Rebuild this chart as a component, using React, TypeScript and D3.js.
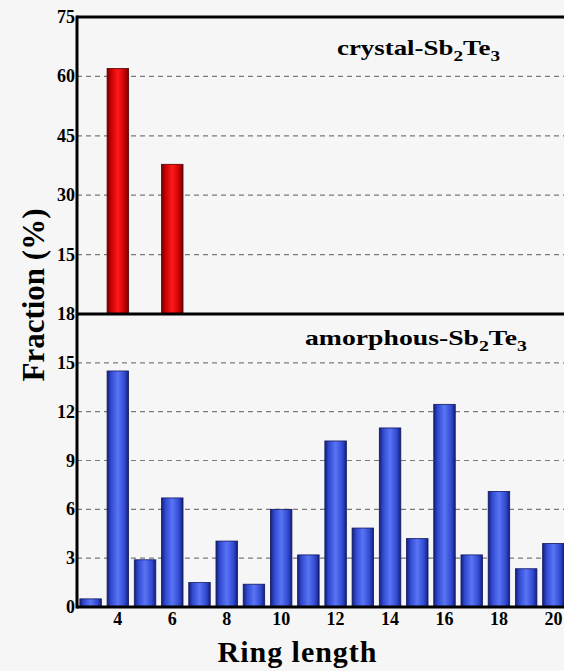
import React from "react";
import * as d3 from "d3";

// ring lengths and fractions (%)
const crystalRings = [4, 6];
const crystalFrac = [62, 37.8];
const amorphRings = [3, 4, 5, 6, 7, 8, 9, 10, 11, 12, 13, 14, 15, 16, 17, 18, 19, 20];
const amorphFrac = [0.5, 14.5, 2.9, 6.7, 1.5, 4.05, 1.4, 6.0, 3.2, 10.2, 4.85, 11.0, 4.2, 12.45, 3.2, 7.1, 2.35, 3.9];
const topTicks = [15, 30, 45, 60, 75];
const bottomTicks = [0, 3, 6, 9, 12, 15, 18];
const xTicks = [4, 6, 8, 10, 12, 14, 16, 18, 20];

const W = 564;
const H = 671;
const left = 77;
const serif = "'Liberation Serif', 'Times New Roman', serif";

const App = () => {
  const x = d3.scaleLinear().domain([2.5, 20.5]).range([left, 567]);
  const yTop = d3.scaleLinear().domain([0, 75]).range([314, 17]);
  const yBot = d3.scaleLinear().domain([0, 18]).range([607, 314]);
  const bw = 27.2 * 0.79;

  const grid = (y, v) => (
    <line
      key={"g" + y(v)}
      x1={left}
      x2={W}
      y1={y(v)}
      y2={y(v)}
      stroke="#7a7a7a"
      strokeWidth={1.2}
      strokeDasharray="5,4"
    />
  );

  return (
    <svg
      width={W}
      height={H}
      style={{ position: "fixed", left: 0, top: 0, background: "#f6f6f6" }}
      fontFamily={serif}
      fontWeight="bold"
    >
      <defs>
        <linearGradient id="redG" x1="0" x2="1" y1="0" y2="0">
          <stop offset="0%" stopColor="#6e0000" />
          <stop offset="18%" stopColor="#c80000" />
          <stop offset="50%" stopColor="#ff1a1a" />
          <stop offset="82%" stopColor="#c80000" />
          <stop offset="100%" stopColor="#6e0000" />
        </linearGradient>
        <linearGradient id="blueG" x1="0" x2="1" y1="0" y2="0">
          <stop offset="0%" stopColor="#141e78" />
          <stop offset="18%" stopColor="#3049d0" />
          <stop offset="50%" stopColor="#5a74f5" />
          <stop offset="82%" stopColor="#3049d0" />
          <stop offset="100%" stopColor="#141e78" />
        </linearGradient>
      </defs>

      {/* gridlines */}
      {[15, 30, 45, 60].map((v) => grid(yTop, v))}
      {[3, 6, 9, 12, 15].map((v) => grid(yBot, v))}

      {/* crystal bars */}
      {crystalRings.map((r, i) => (
        <rect
          key={"c" + r}
          x={x(r) - bw / 2}
          y={yTop(crystalFrac[i])}
          width={bw}
          height={yTop(0) - yTop(crystalFrac[i])}
          fill="url(#redG)"
          stroke="#5a0000"
          strokeWidth={0.8}
        />
      ))}

      {/* amorphous bars */}
      {amorphRings.map((r, i) => (
        <rect
          key={"a" + r}
          x={x(r) - bw / 2}
          y={yBot(amorphFrac[i])}
          width={bw}
          height={yBot(0) - yBot(amorphFrac[i])}
          fill="url(#blueG)"
          stroke="#101860"
          strokeWidth={0.8}
        />
      ))}

      {/* frame */}
      <line x1={left} x2={W} y1={17} y2={17} stroke="#000" strokeWidth={3} />
      <line x1={left} x2={W} y1={314} y2={314} stroke="#000" strokeWidth={3} />
      <line x1={left} x2={W} y1={607} y2={607} stroke="#000" strokeWidth={3} />
      <line x1={left} x2={left} y1={15.5} y2={608.5} stroke="#000" strokeWidth={3} />

      {/* y tick labels */}
      {topTicks.map((v) => (
        <text key={"t" + v} x={left - 2} y={yTop(v) + 6} textAnchor="end" fontSize={18}>
          {v}
        </text>
      ))}
      {bottomTicks.map((v) => (
        <text key={"b" + v} x={left - 2} y={yBot(v) + 6} textAnchor="end" fontSize={18}>
          {v}
        </text>
      ))}

      {/* x tick labels */}
      {xTicks.map((v) => (
        <text key={"x" + v} x={x(v)} y={625} textAnchor="middle" fontSize={18}>
          {v}
        </text>
      ))}

      {/* panel labels */}
      <text x={337} y={55} fontSize={21} textLength={163} lengthAdjust="spacingAndGlyphs">
        crystal-Sb<tspan fontSize={15} dy={6}>2</tspan>
        <tspan dy={-6}>Te</tspan>
        <tspan fontSize={15} dy={6}>3</tspan>
      </text>
      <text x={305} y={345} fontSize={21} textLength={222} lengthAdjust="spacingAndGlyphs">
        amorphous-Sb<tspan fontSize={15} dy={6}>2</tspan>
        <tspan dy={-6}>Te</tspan>
        <tspan fontSize={15} dy={6}>3</tspan>
      </text>

      {/* axis titles */}
      <text x={297} y={662} textAnchor="middle" fontSize={30} textLength={159}>
        Ring length
      </text>
      <text
        transform="translate(44,295) rotate(-90)"
        textAnchor="middle"
        fontSize={31}
      >
        Fraction (%)
      </text>
    </svg>
  );
};

export default App;
